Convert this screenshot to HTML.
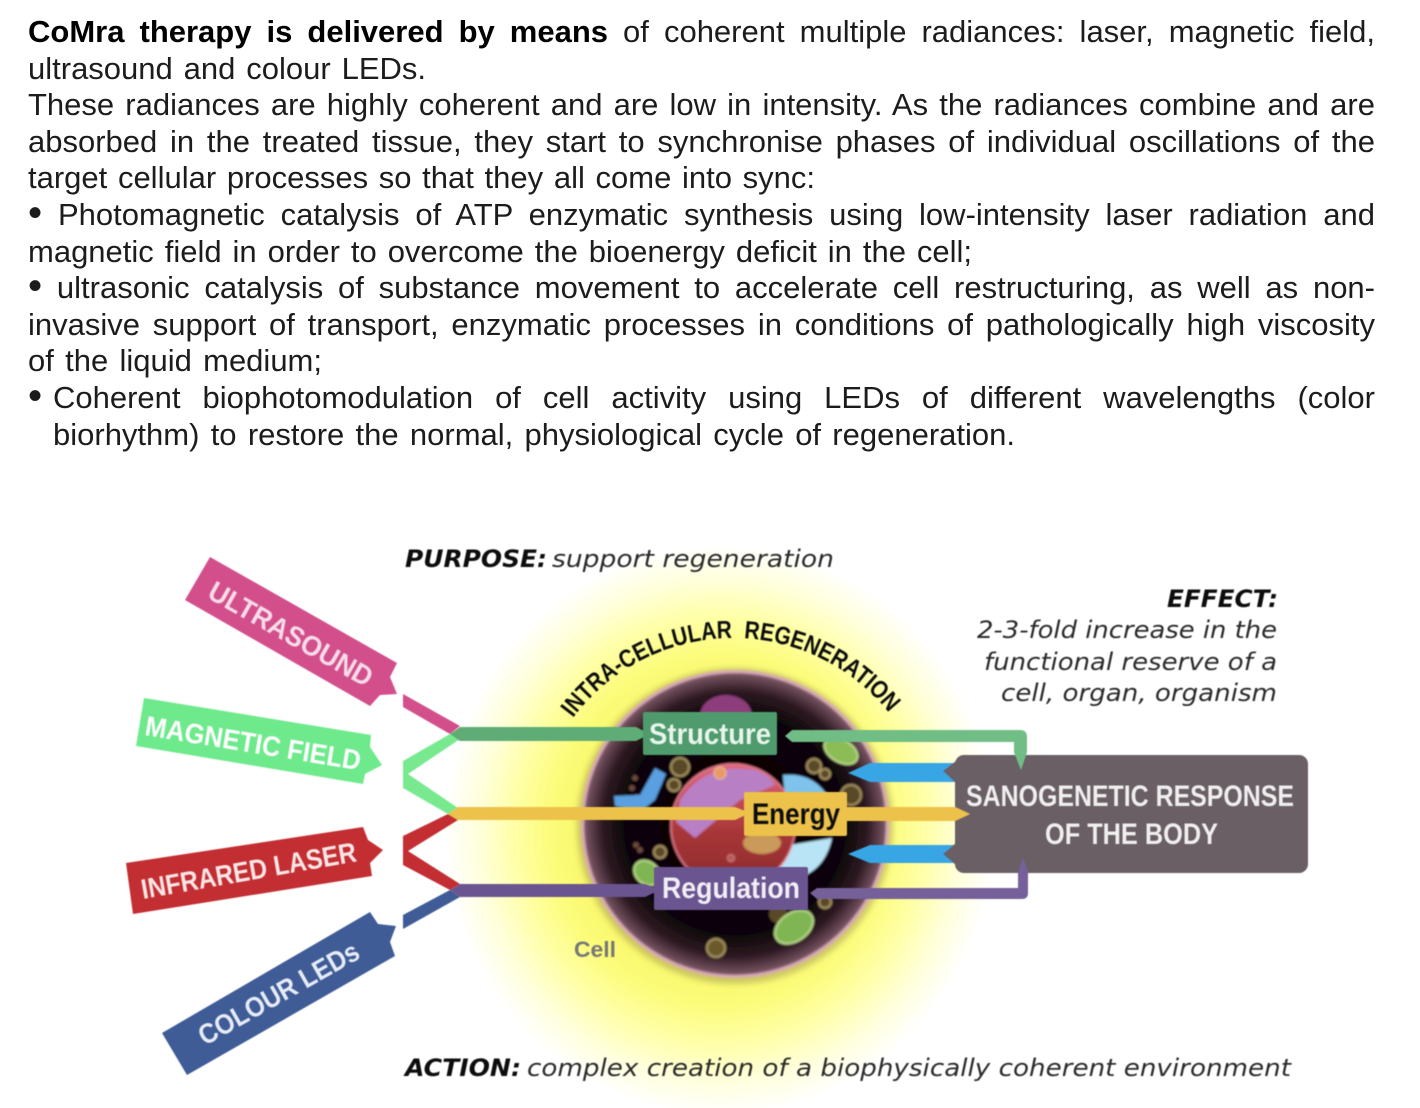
<!DOCTYPE html>
<html><head><meta charset="utf-8">
<style>
html,body{margin:0;padding:0;background:#fff;width:1420px;height:1108px;overflow:hidden}
.l{position:absolute;height:37px;line-height:36px;font-family:"Liberation Sans",Arial,sans-serif;font-size:31px;color:#1c1c1c;text-align:justify;text-align-last:justify;overflow:hidden}
.d{font-size:1.3em;line-height:0;vertical-align:-1px}
svg{position:absolute;left:0;top:0}
</style></head><body>
<svg width="1420" height="1108" viewBox="0 0 1420 1108" xmlns="http://www.w3.org/2000/svg">
<defs>
<radialGradient id="glow">
<stop offset="0" stop-color="#f8f76a"/><stop offset=".5" stop-color="#f8f76a"/><stop offset=".62" stop-color="#fcfc7c"/><stop offset=".75" stop-color="#ffffa8"/><stop offset=".88" stop-color="#ffffdc"/><stop offset="1" stop-color="#ffffff"/>
</radialGradient>
<radialGradient id="cell" gradientUnits="userSpaceOnUse" cx="735" cy="824" r="154">
<stop offset="0" stop-color="#070304"/><stop offset=".72" stop-color="#0c0608"/><stop offset=".86" stop-color="#2e1a22"/><stop offset=".96" stop-color="#6e4c5a"/><stop offset="1" stop-color="#a27d8a"/>
</radialGradient>
<linearGradient id="nuc" x1="0" y1="0" x2="0" y2="1"><stop offset="0" stop-color="#e0687c"/><stop offset=".55" stop-color="#a83638"/><stop offset="1" stop-color="#8a2a2e"/></linearGradient>
<filter id="b1" x="-10%" y="-10%" width="120%" height="120%"><feGaussianBlur stdDeviation="1"/></filter>
<filter id="b2" x="-10%" y="-10%" width="120%" height="120%"><feGaussianBlur stdDeviation="0.6"/></filter>
<filter id="b3" x="-20%" y="-20%" width="140%" height="140%"><feGaussianBlur stdDeviation="3"/></filter>
<path id="arc" d="M 573,718 A 200,200 0 0 1 893,718" fill="none"/>
</defs>

<ellipse cx="720" cy="830" rx="275" ry="285" fill="url(#glow)"/>

<!-- cell -->
<circle cx="735" cy="826" r="158" fill="#6a5a4a" opacity=".3" filter="url(#b3)"/>
<g filter="url(#b1)">
<ellipse cx="735" cy="824" rx="154" ry="154" fill="#d9aab6"/>
<ellipse cx="735" cy="824" rx="151" ry="151" fill="url(#cell)"/>
<ellipse cx="726" cy="716" rx="26" ry="21" fill="#8d3d7c"/>
<circle cx="680" cy="767" r="9" fill="#5a4a28" stroke="#a89562" stroke-width="2"/>
<circle cx="674" cy="785" r="6" fill="#5a4a28" stroke="#a89562" stroke-width="2"/>
<circle cx="814" cy="766" r="7" fill="#5a4a28" stroke="#a89562" stroke-width="2"/>
<circle cx="825" cy="774" r="5" fill="#5a4a28" stroke="#a89562" stroke-width="2"/>
<circle cx="851" cy="795" r="10" fill="#5a4a28" stroke="#a89562" stroke-width="2"/>
<circle cx="660" cy="852" r="6" fill="#5a4a28" stroke="#a89562" stroke-width="2"/>
<circle cx="716" cy="948" r="9" fill="#6b5a2c" stroke="#a89562" stroke-width="2"/>
<circle cx="825" cy="902" r="6" fill="#5a4a28" stroke="#a89562" stroke-width="2"/>
<circle cx="778" cy="914" r="9" fill="#5a4a28"/>
<g fill="#6b4a3a"><circle cx="635" cy="778" r="3"/><circle cx="632" cy="788" r="3"/><circle cx="637" cy="797" r="3"/><circle cx="636" cy="845" r="3"/><circle cx="640" cy="850" r="3"/></g>
<ellipse cx="841" cy="751" rx="18" ry="11" transform="rotate(30 841 751)" fill="#8bbc55" stroke="#bcd98c" stroke-width="2"/>
<ellipse cx="794" cy="927" rx="21" ry="14" transform="rotate(-35 794 927)" fill="#7fb552" stroke="#bcd98c" stroke-width="2"/>
<ellipse cx="647" cy="873" rx="14" ry="11" transform="rotate(40 647 873)" fill="#7fb552" stroke="#bcd98c" stroke-width="2"/>
<path d="M655,768 L666,774 L655,800 L640,812 L615,806 L614,796 L640,795Z" fill="#5a9fe0"/>
<path d="M783,775 Q815,772 830,800 L825,808 Q805,800 785,798Z" fill="#7fc3ec"/>
<path d="M790,845 L832,838 Q825,870 798,878 L770,870Z" fill="#b8e4f6"/>
<circle cx="733" cy="826" r="62" fill="url(#nuc)" stroke="#e7808f" stroke-width="1.500"/>
<path d="M680,800 Q705,762 755,770 Q770,775 775,785 L740,800 L695,838 L676,822Z" fill="#b97fc4"/>
<ellipse cx="762" cy="843" rx="19" ry="11" fill="#c99a5a"/>
<circle cx="720" cy="773" r="6" fill="#e89a66" stroke="#f0c29a"/>
<circle cx="731" cy="858" r="3.500" fill="#b05a5a" stroke="#e08080"/>
</g>

<!-- left labels -->
<g filter="url(#b2)">
<polygon points="210,557 397,663 390,677 397,694 380,695 370,706 185,600" fill="#d3508c"/>
<polygon points="144,698 371,735 370,747 382,765 365,774 363,784 136,746" fill="#6eea8c"/>
<polygon points="126,863 363,827 368,840 383,850 370,863 372,876 133,914" fill="#c32f32"/>
<polygon points="162,1033 370,912 378,924 396,926 390,942 395,956 187,1075" fill="#405b97"/>

<polygon points="403,694 460,726 450,734 403,707" fill="#d3508c"/>
<polygon points="450,734 460,739 408,774 458,808 448,814 403,788 403,761" fill="#78e98f"/>
<polygon points="448,814 458,820 408,851 460,884 450,890 403,865 403,836" fill="#c32f32"/>
<polygon points="450,890 460,897 403,929 403,915" fill="#405b97"/>

<!-- bars -->
<polygon points="450,734 460,727 636,727 650,734 636,741 460,741" fill="#5fac76"/>
<polygon points="448,814 458,807 735,807 750,813 735,820 458,820" fill="#ecc24c"/>
<polygon points="450,890 460,884 645,884 660,890 645,897 460,897" fill="#6b5590"/>

<path d="M785,736 L792,730 L1020,730 Q1027,730 1027,737 L1027,752 L1021,770 L1014,752 L1014,742 L792,742Z" fill="#6fbd85"/>
<rect x="955" y="755" width="353" height="118" rx="9" fill="#695f65"/>
<polygon points="1027,752 1021,770 1014,752" fill="#6fbd85"/>
<polygon points="848,773 870,763 955,763 955,782 870,782" fill="#37a5e4"/>
<polygon points="848,854 870,845 955,845 955,863 870,863" fill="#37a5e4"/>
<polygon points="956,761 943,771 956,783" fill="#695f65"/>
<polygon points="956,843 943,854 956,865" fill="#695f65"/>
<polygon points="840,807 955,807 970,814 955,821 840,821" fill="#ecc24c"/>
<path d="M810,893 L817,888 L1018,888 L1018,872 L1023,858 L1028,872 L1028,893 Q1028,899 1022,899 L817,899Z" fill="#75609a"/>

<rect x="643" y="712" width="134" height="43" rx="2" fill="#4f9b6d"/>
<rect x="744" y="792" width="103" height="44" rx="2" fill="#ecc24c"/>
<rect x="654" y="867" width="154" height="43" rx="2" fill="#6b5590"/>
</g>

<g filter="url(#b2)">
<text x="649" y="744" font-family="Liberation Sans,sans-serif" font-weight="700" font-size="30" fill="#e8f4ec" textLength="122" lengthAdjust="spacingAndGlyphs">Structure</text>
<text x="752" y="824" font-family="Liberation Sans,sans-serif" font-weight="700" font-size="30" fill="#111" textLength="88" lengthAdjust="spacingAndGlyphs">Energy</text>
<text x="662" y="898" font-family="Liberation Sans,sans-serif" font-weight="700" font-size="30" fill="#f1eef6" textLength="138" lengthAdjust="spacingAndGlyphs">Regulation</text>
<text x="574" y="957" font-family="Liberation Sans,sans-serif" font-weight="700" font-size="22" fill="#777" textLength="42" lengthAdjust="spacingAndGlyphs">Cell</text>

<text x="966" y="806" font-family="Liberation Sans,sans-serif" font-weight="700" font-size="30" fill="#f0eeee" textLength="328" lengthAdjust="spacingAndGlyphs">SANOGENETIC RESPONSE</text>
<text x="1045" y="844" font-family="Liberation Sans,sans-serif" font-weight="700" font-size="30" fill="#f0eeee" textLength="173" lengthAdjust="spacingAndGlyphs">OF THE BODY</text>

<text font-family="Liberation Sans,sans-serif" font-weight="700" font-size="28" fill="#f7dbe8" transform="translate(206,597) rotate(29.500)" textLength="184" lengthAdjust="spacingAndGlyphs">ULTRASOUND</text>
<text font-family="Liberation Sans,sans-serif" font-weight="700" font-size="28" fill="#ffffff" transform="translate(144,735) rotate(9.300)" textLength="218" lengthAdjust="spacingAndGlyphs">MAGNETIC FIELD</text>
<text font-family="Liberation Sans,sans-serif" font-weight="700" font-size="28" fill="#fbe6e6" transform="translate(143,899) rotate(-10)" textLength="218" lengthAdjust="spacingAndGlyphs">INFRARED LASER</text>
<text font-family="Liberation Sans,sans-serif" font-weight="700" font-size="28" fill="#e6ebf6" transform="translate(205,1046) rotate(-29.500)" textLength="180" lengthAdjust="spacingAndGlyphs">COLOUR LEDs</text>

<text font-family="Liberation Sans,sans-serif" font-weight="700" font-size="25" fill="#111" textLength="364" lengthAdjust="spacingAndGlyphs"><textPath href="#arc" startOffset="0">INTRA-CELLULAR&#160;&#160;REGENERATION</textPath></text>

<g font-family="DejaVu Sans,sans-serif" font-style="italic" fill="#2b2b2b" font-size="24">
<text x="405" y="567" font-weight="700" fill="#111" textLength="142" lengthAdjust="spacingAndGlyphs">PURPOSE:</text>
<text x="552" y="567" textLength="282" lengthAdjust="spacingAndGlyphs">support regeneration</text>
<text x="1167" y="607" font-weight="700" fill="#111" textLength="111" lengthAdjust="spacingAndGlyphs">EFFECT:</text>
<text x="977" y="638" textLength="300" lengthAdjust="spacingAndGlyphs">2-3-fold increase in the</text>
<text x="984" y="670" textLength="293" lengthAdjust="spacingAndGlyphs">functional reserve of a</text>
<text x="1001" y="701" textLength="276" lengthAdjust="spacingAndGlyphs">cell, organ, organism</text>
<text x="405" y="1076" font-weight="700" fill="#111" textLength="116" lengthAdjust="spacingAndGlyphs">ACTION:</text>
<text x="527" y="1076" textLength="764" lengthAdjust="spacingAndGlyphs">complex creation of a biophysically coherent environment</text>
</g>
</g>
</svg>

<div class="l" style="left:28px;top:14px;width:1347px"><b style="color:#000">CoMra therapy is delivered by means</b> of coherent multiple radiances: laser, magnetic field,</div>
<div class="l" style="left:28px;top:50.500px;width:398px">ultrasound and colour LEDs.</div>
<div class="l" style="left:28px;top:87px;width:1347px">These radiances are highly coherent and are low in intensity. As the radiances combine and are</div>
<div class="l" style="left:28px;top:123.700px;width:1347px">absorbed in the treated tissue, they start to synchronise phases of individual oscillations of the</div>
<div class="l" style="left:28px;top:160.300px;width:787px">target cellular processes so that they all come into sync:</div>
<div class="l" style="left:28px;top:197px;width:1347px"><span class="d">•</span> Photomagnetic catalysis of ATP enzymatic synthesis using low-intensity laser radiation and</div>
<div class="l" style="left:28px;top:233.500px;width:944px">magnetic field in order to overcome the bioenergy deficit in the cell;</div>
<div class="l" style="left:28px;top:270px;width:1347px"><span class="d">•</span> ultrasonic catalysis of substance movement to accelerate cell restructuring, as well as non-</div>
<div class="l" style="left:28px;top:306.700px;width:1347px">invasive support of transport, enzymatic processes in conditions of pathologically high viscosity</div>
<div class="l" style="left:28px;top:343.300px;width:294px">of the liquid medium;</div>
<div class="l" style="left:28px;top:380px;width:20px;text-align:left;text-align-last:left"><span class="d">•</span></div>
<div class="l" style="left:53px;top:380px;width:1322px">Coherent biophotomodulation of cell activity using LEDs of different wavelengths (color</div>
<div class="l" style="left:53px;top:416.600px;width:962px">biorhythm) to restore the normal, physiological cycle of regeneration.</div>
</body></html>
